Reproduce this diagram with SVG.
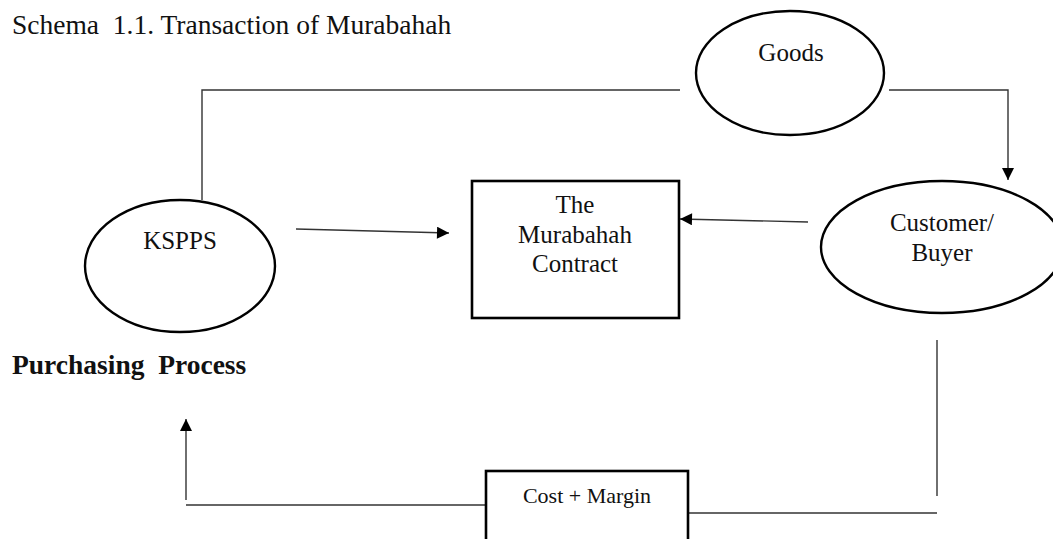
<svg xmlns="http://www.w3.org/2000/svg" width="1053" height="539" viewBox="0 0 1053 539">
<style>
text{font-family:"Liberation Serif","Times New Roman",serif;fill:#111;white-space:pre}
.node{fill:#fff;stroke:#000;stroke-width:2.4}
.box{fill:#fff;stroke:#000;stroke-width:2.6}
.conn{fill:none;stroke:#333;stroke-width:1.4}
.lbl{font-size:25px;text-anchor:middle}
</style>
<defs>
<marker id="ah" viewBox="0 0 10 10" refX="10" refY="5" markerWidth="13" markerHeight="12" markerUnits="userSpaceOnUse" orient="auto">
<path d="M0,0 L10,5 L0,10 z" fill="#000"/>
</marker>
</defs>
<rect width="1053" height="539" fill="#fff"/>
<text x="12" y="34" font-size="27.5" xml:space="preserve">Schema  1.1. Transaction of Murabahah</text>
<text x="12" y="374" font-size="27.5" font-weight="bold" xml:space="preserve">Purchasing  Process</text>
<g id="connectors">
<polyline class="conn" points="202,200 202,90 680,90"/>
<polyline class="conn" points="889,90 1008,90 1008,180" marker-end="url(#ah)"/>
<line class="conn" x1="296" y1="229" x2="449" y2="233" marker-end="url(#ah)"/>
<line class="conn" x1="808" y1="222" x2="680" y2="219" marker-end="url(#ah)"/>
<line class="conn" x1="937" y1="340" x2="937" y2="496"/>
<line class="conn" x1="688" y1="513" x2="937" y2="513"/>
<line class="conn" x1="186" y1="505" x2="487" y2="505"/>
<line class="conn" x1="186" y1="500" x2="186" y2="419" marker-end="url(#ah)"/>
</g>
<g id="goods">
<ellipse class="node" cx="790" cy="73" rx="94" ry="62"/>
<text class="lbl" x="791" y="61">Goods</text>
</g>
<g id="kspps">
<ellipse class="node" cx="180" cy="266" rx="95" ry="66"/>
<text class="lbl" x="180" y="249">KSPPS</text>
</g>
<g id="contract">
<rect class="box" x="472" y="181" width="207" height="137"/>
<text class="lbl" x="575" y="213">The</text>
<text class="lbl" x="575" y="243">Murabahah</text>
<text class="lbl" x="575" y="272">Contract</text>
</g>
<g id="customer">
<ellipse class="node" cx="942" cy="247" rx="121" ry="66"/>
<text class="lbl" x="942" y="231">Customer/</text>
<text class="lbl" x="942" y="261">Buyer</text>
</g>
<g id="cost-margin">
<rect class="box" x="486" y="471" width="202" height="80"/>
<text x="587" y="503" font-size="22" text-anchor="middle" xml:space="preserve">Cost + Margin</text>
</g>
</svg>
